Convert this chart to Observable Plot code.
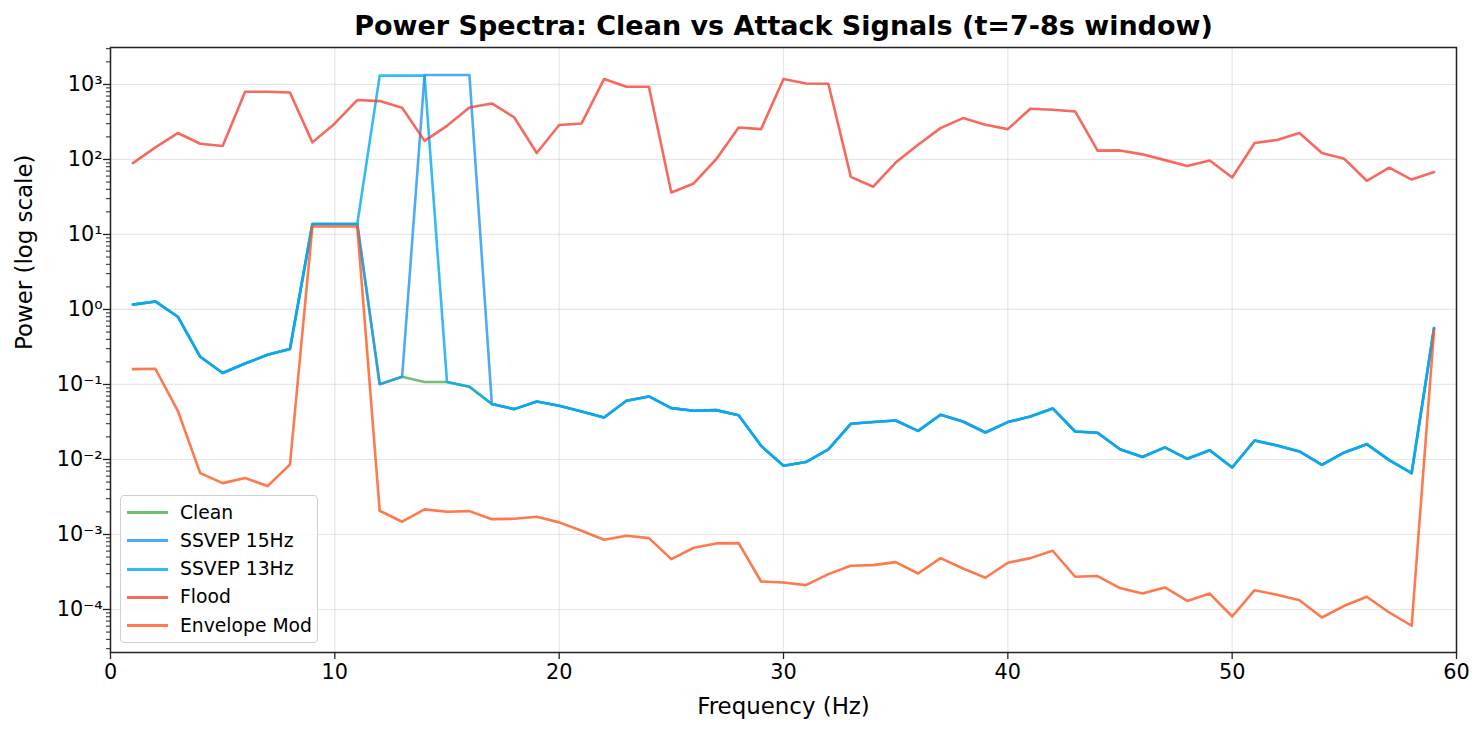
<!DOCTYPE html>
<html>
<head>
<meta charset="utf-8">
<script src="https://cdn.jsdelivr.net/npm/d3@7"></script>
<script src="https://cdn.jsdelivr.net/npm/@observablehq/plot@0.6"></script>
<style>
  html, body { margin: 0; padding: 0; background: #fff; }
  #wrap { position: relative; width: 1484px; height: 733px; font-family: "DejaVu Sans", sans-serif; }
  #legend { position: absolute; left: 120px; top: 495px; width: 196px; height: 146px;
    border: 1.3px solid #d0d0d0; border-radius: 4px; background: rgba(255,255,255,0.8); }
  .row { position: absolute; left: 0; height: 24px; width: 196px; }
  .sw { position: absolute; left: 6px; top: 10.5px; width: 41px; height: 3px; }
  .lab { position: absolute; left: 59px; top: 0; font-size: 18.75px; line-height: 24px; color: #000; white-space: nowrap; }
</style>
</head>
<body>
<div id="wrap"></div>
<script>
// ---- data ----
const freqs = [1,2,3,4,5,6,7,8,9,10,11,12,13,14,15,16,17,18,19,20,21,22,23,24,25,26,27,28,29,30,
  31,32,33,34,35,36,37,38,39,40,41,42,43,44,45,46,47,48,49,50,51,52,53,54,55,56,57,58,59];

const clean = [1.16,1.28,0.80,0.234,0.142,0.19,0.249,0.297,13.8,13.8,13.8,0.101,0.127,0.108,0.108,0.093,
  0.0548,0.0469,0.0593,0.052,0.0437,0.0363,0.0607,0.0692,0.0484,0.0446,0.0455,0.039,0.0152,0.00825,
  0.00923,0.0136,0.0299,0.0316,0.0331,0.0241,0.0394,0.0321,0.0229,0.0315,0.0374,0.0479,0.0236,0.0227,
  0.0137,0.0108,0.0145,0.0102,0.0133,0.00782,0.0179,0.0154,0.0128,0.0085,0.0124,0.016,0.0098,0.00657,0.565];

const ssvep15 = [1.16,1.28,0.80,0.234,0.142,0.19,0.249,0.297,13.8,13.8,13.8,0.101,0.127,1340,1340,1340,
  0.0548,0.0469,0.0593,0.052,0.0437,0.0363,0.0607,0.0692,0.0484,0.0446,0.0455,0.039,0.0152,0.00825,
  0.00923,0.0136,0.0299,0.0316,0.0331,0.0241,0.0394,0.0321,0.0229,0.0315,0.0374,0.0479,0.0236,0.0227,
  0.0137,0.0108,0.0145,0.0102,0.0133,0.00782,0.0179,0.0154,0.0128,0.0085,0.0124,0.016,0.0098,0.00657,0.565];

const ssvep13 = [1.16,1.28,0.80,0.234,0.142,0.19,0.249,0.297,13.8,13.8,13.8,1310,1310,1310,0.108,0.093,
  0.0548,0.0469,0.0593,0.052,0.0437,0.0363,0.0607,0.0692,0.0484,0.0446,0.0455,0.039,0.0152,0.00825,
  0.00923,0.0136,0.0299,0.0316,0.0331,0.0241,0.0394,0.0321,0.0229,0.0315,0.0374,0.0479,0.0236,0.0227,
  0.0137,0.0108,0.0145,0.0102,0.0133,0.00782,0.0179,0.0154,0.0128,0.0085,0.0124,0.016,0.0098,0.00657,0.565];

const flood = [89.5,145,225,162,151,800,800,783,169,302,620,600,489,177,281,493,558,363,122,288,302,
  1180,931,931,36.3,47.9,101,267,254,1180,1031,1020,58.7,43.3,91,157,262,356,290,254,474,460,437,
  131,132,117,98,81.6,97,57.5,166,182,225,122,102,52,78,54,68];

const envelope = [0.16,0.162,0.0446,0.00657,0.00484,0.00565,0.00442,0.00858,12.8,12.8,12.8,0.00207,
  0.00148,0.00216,0.00201,0.00205,0.0016,0.00162,0.00172,0.00145,0.00112,0.00085,0.00096,0.000895,
  0.00047,0.000665,0.00076,0.000767,0.000236,0.000229,0.000211,0.000296,0.000383,0.00039,0.000428,
  0.000302,0.000484,0.000352,0.000265,0.00042,0.000484,0.000607,0.000273,0.000279,0.000193,0.000163,
  0.000197,0.00013,0.000163,0.0000807,0.000181,0.000157,0.000133,0.0000782,0.000112,0.000148,
  0.0000912,0.0000607,0.53];

const seriesNames = ["Clean", "SSVEP 15Hz", "SSVEP 13Hz", "Flood", "Envelope Mod"];
const seriesColors = ["#4caf50", "#2196f3", "#03a9f4", "#f44336", "#ff5722"];
const seriesValues = [clean, ssvep15, ssvep13, flood, envelope];

const xTicks = [0, 10, 20, 30, 40, 50, 60];
const yExponents = [-4, -3, -2, -1, 0, 1, 2, 3];

const titleText = "Power Spectra: Clean vs Attack Signals (t=7-8s window)";
const xLabel = "Frequency (Hz)";
const yLabel = "Power (log scale)";

// ---- build ----
const sup = {"-": "\u207B", "0": "\u2070", "1": "\u00B9", "2": "\u00B2", "3": "\u00B3", "4": "\u2074",
  "5": "\u2075", "6": "\u2076", "7": "\u2077", "8": "\u2078", "9": "\u2079"};
const fmtPow = v => "10" + String(Math.round(Math.log10(v))).split("").map(c => sup[c]).join("");

const yMajor = yExponents.map(e => Math.pow(10, e));
const yDomain = [2.67e-5, 3110];
const yMinor = [];
for (let e = -5; e <= 3; e++) for (let k = 2; k <= 9; k++) {
  const v = k * Math.pow(10, e);
  if (v >= yDomain[0] && v <= yDomain[1]) yMinor.push(v);
}

const font = "DejaVu Sans";
const alpha = 0.8;
const lineMarks = seriesValues.map((vals, i) =>
  Plot.line(freqs.map((f, j) => ({f, p: vals[j]})), {
    x: "f", y: "p", stroke: seriesColors[i], strokeWidth: 2.6, strokeOpacity: alpha
  })
);

const chart = Plot.plot({
  width: 1484, height: 733,
  marginTop: 47, marginBottom: 81, marginLeft: 110, marginRight: 28,
  style: {fontFamily: font, background: "#fff", color: "#000"},
  x: {domain: [0, 60]},
  y: {type: "log", domain: yDomain},
  marks: [
    Plot.gridX(xTicks, {stroke: "#b0b0b0", strokeOpacity: 0.3, strokeWidth: 1.2}),
    Plot.gridY(yMajor, {stroke: "#b0b0b0", strokeOpacity: 0.3, strokeWidth: 1.2}),
    ...lineMarks,
    Plot.frame({stroke: "#222", strokeWidth: 1.5}),
    Plot.axisX({ticks: xTicks, tickSize: 7, tickPadding: 5, fontSize: 20.8, label: null,
      tickFormat: d => String(d), stroke: "#222", strokeWidth: 1.3, fill: "#000"}),
    Plot.axisY({ticks: yMinor, tickSize: 4, tickFormat: () => "", label: null, stroke: "#222", strokeWidth: 1}),
    Plot.axisY({ticks: yMajor, tickSize: 7, tickPadding: 1, fontSize: 20.8, label: null,
      tickFormat: fmtPow, stroke: "#222", strokeWidth: 1.3, fill: "#000"}),
    Plot.text([titleText], {frameAnchor: "top", lineAnchor: "middle", dy: -21.5, fontSize: 27,
      fontWeight: "bold", fill: "#000"}),
    Plot.text([xLabel], {frameAnchor: "bottom", lineAnchor: "middle", dy: 54, fontSize: 22.9, fill: "#000"}),
    Plot.text([yLabel], {frameAnchor: "left", lineAnchor: "middle", rotate: -90, dx: -86, fontSize: 22.9, fill: "#000"})
  ]
});

const wrap = document.getElementById("wrap");
wrap.appendChild(chart);

const legend = document.createElement("div");
legend.id = "legend";
seriesNames.forEach((name, i) => {
  const row = document.createElement("div");
  row.className = "row";
  row.style.top = (4.5 + i * 28.3) + "px";
  const sw = document.createElement("div");
  sw.className = "sw";
  sw.style.background = seriesColors[i];
  sw.style.opacity = alpha;
  const lab = document.createElement("div");
  lab.className = "lab";
  lab.textContent = name;
  row.appendChild(sw); row.appendChild(lab);
  legend.appendChild(row);
});
wrap.appendChild(legend);
</script>
</body>
</html>
